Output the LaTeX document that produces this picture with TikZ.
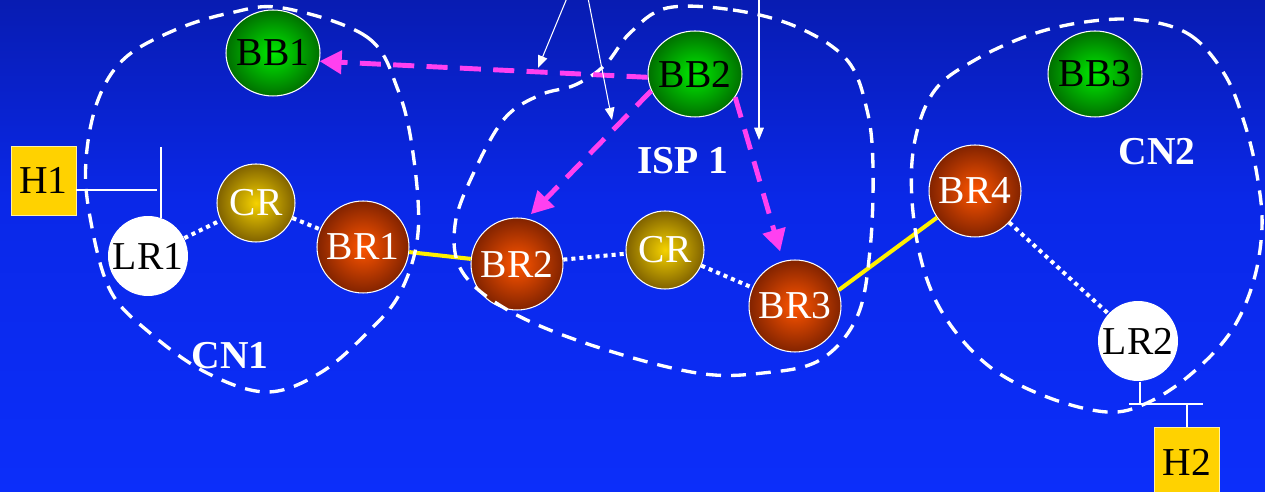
\documentclass[tikz,border=0pt]{standalone}
\usepackage{fontspec}
\setmainfont{Liberation Serif}
\usetikzlibrary{arrows.meta,shapes.geometric}
\definecolor{bgtop}{RGB}{8,28,178}
\definecolor{bgmid}{RGB}{10,40,232}
\definecolor{bgbot}{RGB}{12,46,250}
\definecolor{pinkarrow}{RGB}{255,64,240}
\definecolor{linkyellow}{RGB}{255,240,0}
\definecolor{hostfill}{RGB}{255,210,0}
\definecolor{hostedge}{RGB}{255,240,160}
\definecolor{bbin}{RGB}{0,235,0}
\definecolor{bbout}{RGB}{0,112,0}
\definecolor{crin}{RGB}{245,210,0}
\definecolor{crout}{RGB}{128,98,0}
\definecolor{brin}{RGB}{255,85,0}
\definecolor{brout}{RGB}{130,35,0}
\begin{document}
\begin{tikzpicture}[x=0.02cm,y=-0.02cm,
  lbl/.style={font=\fontsize{22.5}{24}\selectfont},
  rnode/.style={circle,draw=white,line width=0.6pt,inner sep=0pt,lbl},
  bbnode/.style={ellipse,draw=white,line width=0.6pt,inner sep=0pt,lbl,text=black,
    minimum width=1.88cm,minimum height=1.72cm,inner color=bbin,outer color=bbout},
  crnode/.style={rnode,minimum size=1.56cm,inner color=crin,outer color=crout,text=white},
  brnode/.style={rnode,minimum size=1.84cm,inner color=brin,outer color=brout,text=white},
  lrnode/.style={rnode,draw=none,minimum size=1.6cm,fill=white,text=black},
  hostnode/.style={rectangle,draw=hostedge,line width=0.5pt,fill=hostfill,inner sep=0pt,
    minimum width=1.3cm,minimum height=1.38cm,lbl,text=black},
  area/.style={white,line width=1.9pt,dash pattern=on 8.5pt off 5.7pt},
  arealabel/.style={white,font=\fontsize{22.5}{24}\selectfont\bfseries},
  pinkflow/.style={pinkarrow,line width=2.8pt,dash pattern=on 12pt off 7pt,
    -{Triangle[length=12.5pt,width=13pt]}},
  thinarrow/.style={white,line width=0.6pt,-{Triangle[length=7pt,width=5.5pt]}},
  dotlink/.style={white,line width=2.3pt,dash pattern=on 2.3pt off 2.3pt},
  yellowlink/.style={linkyellow,line width=2.3pt},
  wire/.style={white,line width=0.8pt}]
% background
\useasboundingbox (0,0) rectangle (1265,492);
\shade[top color=bgtop,bottom color=bgmid] (0,0) rectangle (1265,200);
\shade[top color=bgmid,bottom color=bgbot] (0,199.5) rectangle (1265,492);

% nodes
\node[bbnode] (BB1) at (273,53) {\makebox[0pt]{BB1}};
\node[bbnode] (BB2) at (695,74) {\makebox[0pt]{BB2}};
\node[bbnode] (BB3) at (1095,74) {\makebox[0pt]{BB3}};
\node[crnode] (CR1) at (256,203) {\makebox[0pt]{CR}};
\node[crnode] (CR2) at (665,250) {\makebox[0pt]{CR}};
\node[lrnode] (LR1) at (148,256) {\makebox[0pt]{LR1}};
\node[lrnode] (LR2) at (1138,341) {\makebox[0pt]{LR2}};
\node[brnode] (BR1) at (363,247) {\makebox[0pt]{BR1}};
\node[brnode] (BR2) at (517,264) {\makebox[0pt]{BR2}};
\node[brnode] (BR3) at (795,306) {\makebox[0pt]{BR3}};
\node[brnode] (BR4) at (975,191) {\makebox[0pt]{BR4}};
\node[hostnode] (H1) at (43.5,180.5) {H1};
\node[hostnode] (H2) at (1187,462) {H2};

% links
\draw[dotlink] (LR1) -- (CR1);
\draw[dotlink] (CR1) -- (BR1);
\draw[dotlink] (BR2) -- (CR2);
\draw[dotlink] (CR2) -- (BR3);
\draw[dotlink] (BR4) -- (LR2);
\draw[yellowlink] (BR1) -- (BR2);
\draw[yellowlink] (BR3.20) -- (BR4.215);

% host wiring
\coordinate (h1a) at (157,190);
\coordinate (h1b) at (161,147);
\draw[wire] (H1.east |- h1a) -- (h1a);
\draw[wire] (h1b) -- (h1b |- LR1.71);
\coordinate (bus1) at (1129,404);
\coordinate (bus2) at (1203,404);
\coordinate (lr2d) at (1140,404);
\draw[wire] (bus1) -- (bus2);
\draw[wire] (lr2d |- LR2.south) -- (lr2d);
\draw[wire] (H2.north |- bus1) -- (H2.north);

% areas
\draw[area] plot[smooth cycle,tension=0.6] coordinates {(283,8) (367,37) (398,90) (413,153) (418,233) (400,293) (367,333) (320,373) (267,392) (207,373) (150,333) (110,290) (90,217) (86,160) (98,100) (125,58) (175,30) (230,13)};
\draw[area] plot[smooth cycle,tension=0.6] coordinates {(667,8) (733,10) (797,27) (847,60) (867,110) (873,167) (870,250) (857,317) (820,360) (763,373) (697,373) (597,347) (513,313) (463,273) (455,225) (475,170) (505,118) (540,95) (575,85) (605,65) (630,33)};
\draw[area] plot[smooth cycle,tension=0.6] coordinates {(1140,20) (1190,35) (1225,75) (1245,125) (1257,175) (1262,227) (1253,283) (1230,333) (1190,375) (1147,403) (1107,412) (1047,397) (990,367) (947,320) (923,267) (912,200) (915,140) (935,90) (975,60) (1030,35) (1085,22)};

% flows
\draw[pinkflow] (BB2.184) -- (BB1.-10);
\draw[pinkflow,shorten >=3.4pt] (BB2.201) -- (BR2.78);
\draw[pinkflow,shorten >=5.7pt] (BB2.-30) -- (BR3.105);

% thin arrows from above
\coordinate (t1) at (567,-2);
\coordinate (t2) at (588,-2);
\coordinate (t3) at (759,-2);
\coordinate (e1) at (538,68);
\coordinate (e2) at (612,120);
\coordinate (e3) at (759,140);
\draw[thinarrow] (t1) -- (e1);
\draw[thinarrow] (t2) -- (e2);
\draw[thinarrow] (t3) -- (e3);

% labels
\node[arealabel] (lcn1) at (230,356) {CN1};
\node[arealabel] (lisp) at (683,161) {ISP 1};
\node[arealabel] (lcn2) at (1157,152) {CN2};
\end{tikzpicture}
\end{document}
